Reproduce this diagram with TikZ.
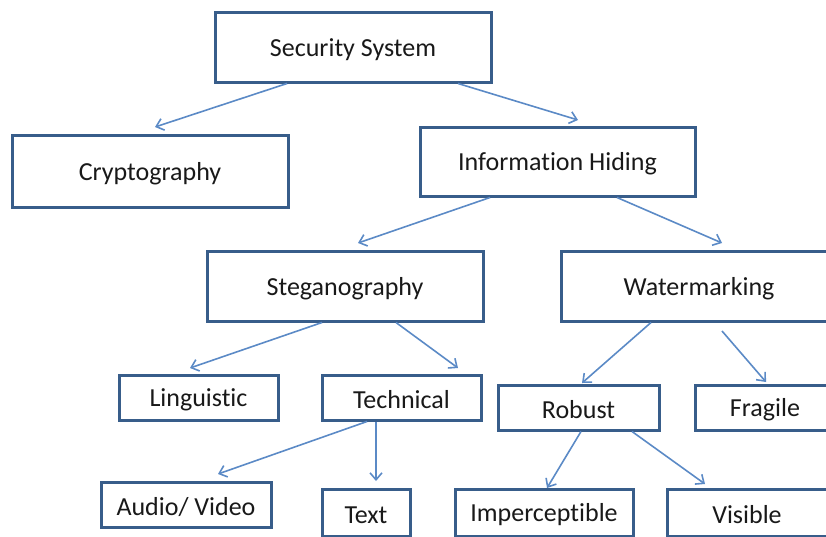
\documentclass[tikz,border=0pt]{standalone}
\usepackage{fontspec}
\setmainfont[Ligatures=NoCommon]{Carlito}
\usetikzlibrary{arrows.meta}
\definecolor{boxline}{HTML}{385D8A}
\definecolor{arrowline}{HTML}{5B8AC6}
\tikzset{
  box/.style={draw=boxline, line width=3pt, fill=white, inner sep=0pt,
    font=\fontsize{26}{30}\selectfont, text=black!90},
  link/.style={draw=arrowline, line width=1.6pt,
    -{Straight Barb[length=7pt,width=12pt,line width=1.6pt]}},
}
\newcommand{\boxat}[6]{% name, x1, y1, x2, y2, text
  \node[box, minimum width={#4-#2}, minimum height={#5-#3}]
    (#1) at ({(#2+#4)/2},{(#3+#5)/2}) {\raisebox{-2.5pt}[\height][\depth]{#6}};}
\begin{document}
\begin{tikzpicture}[x=1pt, y=-1pt]
  \useasboundingbox (0,0) rectangle (826,536);
  \clip (0,0) rectangle (826,536);
  % boxes
  \boxat{sec}{215}{12}{491}{82}{Security System}
  \boxat{cry}{12}{135}{288}{207}{Cryptography}
  \boxat{ih}{420}{127}{695}{196}{Information Hiding}
  \boxat{ste}{207}{251}{483}{321}{Steganography}
  \boxat{wat}{561}{251}{837}{321}{Watermarking}
  \boxat{lin}{119}{375}{278}{420}{Linguistic}
  \boxat{tec}{322}{375}{481}{420}{Technical}
  \boxat{rob}{498}{385}{659}{430}{Robust}
  \boxat{fra}{695}{385}{835}{430}{Fragile}
  \boxat{av}{101}{482}{271}{527}{Audio/ Video}
  \boxat{txt}{322}{489}{410}{536}{Text}
  \boxat{imp}{455}{489}{633}{536}{Imperceptible}
  \boxat{vis}{667}{489}{827}{536}{Visible}
  % arrow end points
  \coordinate (a1) at (155,127);
  \coordinate (a2) at (578,120);
  \coordinate (a3) at (358,243);
  \coordinate (a4) at (722,243);
  \coordinate (a5) at (190,368);
  \coordinate (a6) at (458,368);
  \coordinate (a7) at (582,383);
  \coordinate (s8) at (722,331);
  \coordinate (a8) at (766,382);
  \coordinate (a9) at (218,474);
  \coordinate (a10) at (376,481);
  \coordinate (a11) at (547,488);
  \coordinate (a12) at (705,484);
  % connectors
  \draw[link] (sec.south -| 287,0) -- (a1);
  \draw[link] (sec.south -| 458,0) -- (a2);
  \draw[link] (ih.south -| 490,0) -- (a3);
  \draw[link] (ih.south -| 617,0) -- (a4);
  \draw[link] (ste.south -| 322,0) -- (a5);
  \draw[link] (ste.south -| 396,0) -- (a6);
  \draw[link] (wat.south -| 651,0) -- (a7);
  \draw[link] (s8) -- (a8);
  \draw[link] (tec.south -| 367,0) -- (a9);
  \draw[link] (tec.south -| 376,0) -- (a10);
  \draw[link] (rob.south -| 581,0) -- (a11);
  \draw[link] (rob.south -| 632,0) -- (a12);
\end{tikzpicture}
\end{document}
